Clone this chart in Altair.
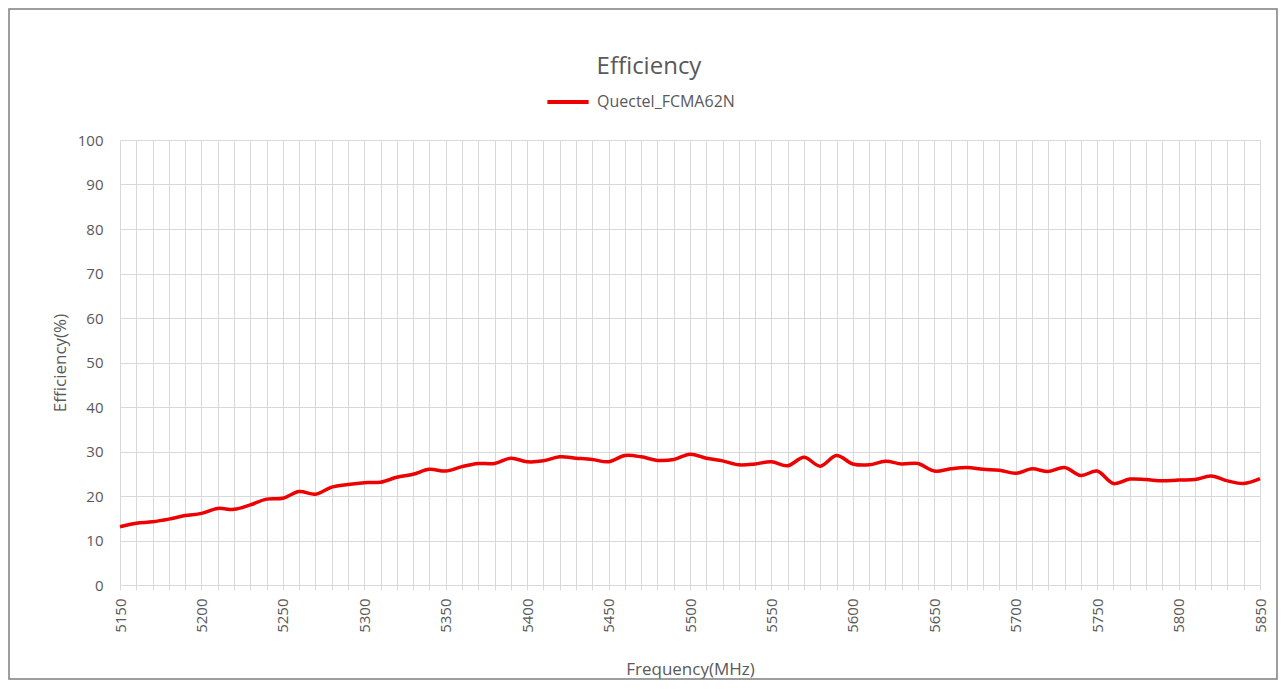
import altair as alt
import pandas as pd

freq = list(range(5150, 5851, 10))
efficiency = [
    13.1, 13.9, 14.2, 14.8, 15.6, 16.1, 17.2, 17.0, 18.0, 19.3,
    19.5, 21.0, 20.4, 22.0, 22.6, 23.0, 23.1, 24.2, 24.9, 26.0,
    25.6, 26.6, 27.3, 27.3, 28.5, 27.7, 27.9, 28.8, 28.5, 28.2,
    27.7, 29.1, 28.8, 28.0, 28.2, 29.4, 28.5, 27.9, 27.0, 27.2,
    27.7, 26.8, 28.7, 26.7, 29.1, 27.2, 27.0, 27.8, 27.2, 27.3,
    25.6, 26.1, 26.4, 26.0, 25.8, 25.1, 26.1, 25.5, 26.4, 24.6,
    25.6, 22.8, 23.8, 23.7, 23.4, 23.6, 23.7, 24.5, 23.4, 22.8,
    23.9,
]
series_name = "Quectel_FCMA62N"
x_ticks = list(range(5150, 5851, 10))
y_ticks = list(range(0, 101, 10))

df = pd.DataFrame({"Frequency": freq, "Efficiency": efficiency, "Series": series_name})

FONT = "Open Sans"
TXT = "#595959"
GRID = "#d9d9d9"
W, H = 1140, 445

line = alt.Chart(df).mark_line(strokeWidth=3.5, interpolate="catmull-rom").encode(
    x=alt.X(
        "Frequency:Q",
        scale=alt.Scale(domain=[5150, 5850], nice=False, zero=False),
        axis=alt.Axis(
            title="Frequency(MHz)",
            values=x_ticks,
            format="d",
            labelExpr="datum.value % 50 == 0 ? datum.label : ''",
            labelAngle=-90,
            labelAlign="right",
            labelBaseline="middle",
            labelPadding=8,
            labelFontSize=15,
            labelColor=TXT,
            labelFont=FONT,
            labelOverlap=False,
            ticks=True,
            tickSize=5,
            tickColor=GRID,
            domainColor=GRID,
            gridColor=GRID,
            titleFontSize=17,
            titleFontWeight="normal",
            titleColor=TXT,
            titleFont=FONT,
            titlePadding=29,
        ),
    ),
    y=alt.Y(
        "Efficiency:Q",
        scale=alt.Scale(domain=[0, 100], nice=False),
        axis=alt.Axis(
            title="Efficiency(%)",
            values=y_ticks,
            ticks=False,
            domain=False,
            labelPadding=17,
            labelFontSize=15,
            labelColor=TXT,
            labelFont=FONT,
            gridColor=GRID,
            titleFontSize=17,
            titleFontWeight="normal",
            titleColor=TXT,
            titleFont=FONT,
            titlePadding=8,
        ),
    ),
    color=alt.Color(
        "Series:N",
        scale=alt.Scale(range=["#ee0000"]),
        legend=alt.Legend(
            title=None,
            orient="none",
            legendX=425,
            legendY=-61,
            symbolType="stroke",
            symbolSize=1700,
            symbolStrokeWidth=4,
            labelFontSize=16,
            labelColor=TXT,
            labelFont=FONT,
            labelOffset=6,
            padding=0,
        ),
    ),
)

border = alt.Chart(pd.DataFrame({"a": [0]})).mark_rect(
    filled=False, stroke="#7f7f7f", strokeWidth=1.5
).encode(
    x=alt.value(-111), x2=alt.value(W + 17),
    y=alt.value(-131), y2=alt.value(H + 94),
)

chart = alt.layer(line, border).properties(
    width=W,
    height=H,
    padding={"left": 112, "top": 132, "right": 18, "bottom": 96},
    autosize=alt.AutoSizeParams(type="none"),
    title=alt.TitleParams(
        "Efficiency",
        fontSize=24,
        fontWeight="normal",
        color=TXT,
        font=FONT,
        anchor="middle",
        frame="group",
        dx=-41,
        offset=-71,
    ),
).configure_view(stroke=None)

chart.save("out.html", embed_options={"renderer": "svg", "actions": False})
